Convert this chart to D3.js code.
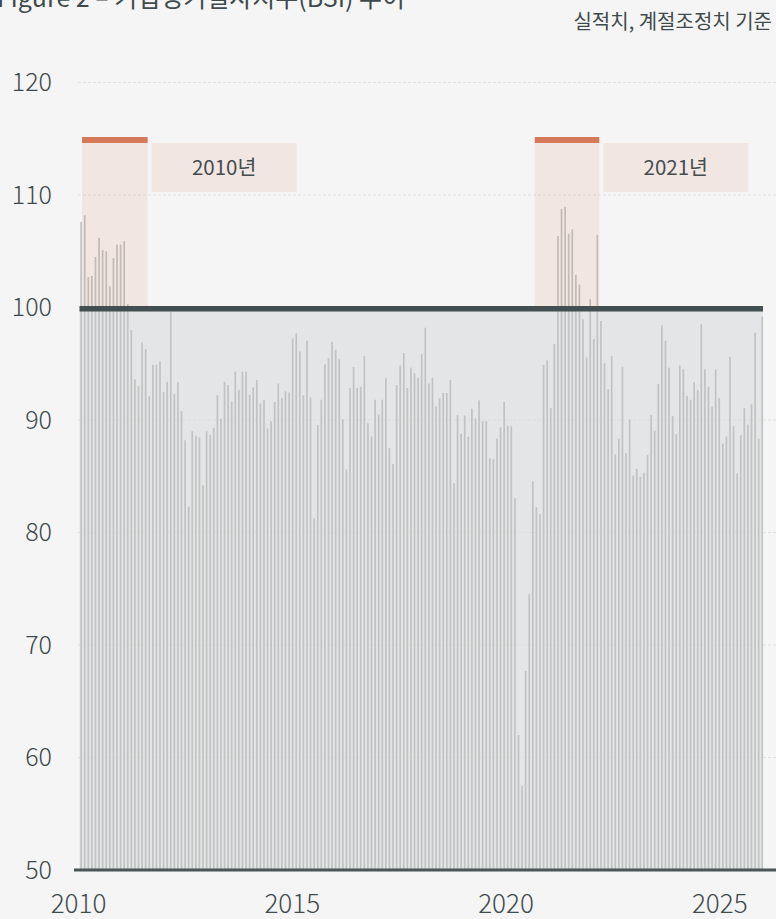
<!DOCTYPE html>
<html>
<head>
<meta charset="utf-8">
<script src="https://cdn.jsdelivr.net/npm/d3@7"></script>
<style>
  html, body { margin: 0; padding: 0; background: #f5f5f5; }
  svg { display: block; font-family: "Noto Sans CJK KR", "Noto Sans", sans-serif; }
</style>
</head>
<body>
<div id="chart"></div>
<script>
const WIDTH = 776, HEIGHT = 919;

// monthly values, Jan 2010 .. Nov 2025
const START_YEAR = 2010;
const values = [
  107.6, 108.2, 102.7, 102.8, 104.5, 106.2, 105.1, 105.0, 101.9, 104.4, 105.6, 105.6,
  105.9, 100.3, 98.0, 93.6, 93.0, 96.9, 96.3, 92.1, 94.9, 94.9, 95.2, 92.5,
  93.4, 99.6, 92.3, 93.35, 90.8, 88.2, 82.3, 89.0, 88.6, 88.45, 84.2, 89.0,
  88.7, 89.3, 92.2, 90.1, 93.4, 93.1, 91.65, 94.3, 92.7, 94.3, 94.3, 92.25,
  92.9, 93.55, 91.45, 91.8, 89.25, 89.9, 91.6, 93.25, 91.95, 92.55, 92.45, 97.25,
  97.7, 96.1, 92.2, 97.05, 92.0, 81.25, 89.55, 91.8, 94.95, 95.5, 96.95, 96.25,
  95.4, 90.05, 85.6, 92.85, 94.7, 92.85, 92.95, 95.7, 89.7, 88.55, 91.8, 90.5,
  91.8, 93.7, 87.5, 86.1, 93.1, 94.85, 95.95, 92.85, 94.65, 94.15, 93.75, 95.85,
  98.2, 93.25, 93.75, 91.2, 91.95, 92.4, 92.4, 93.55, 84.4, 90.45, 88.75, 90.4,
  88.5, 91.0, 90.15, 91.75, 89.9, 89.9, 86.6, 86.5, 88.35, 89.35, 91.6, 89.5,
  89.45, 83.05, 62.0, 57.5, 67.7, 74.5, 84.55, 82.25, 81.65, 94.9, 95.3, 91.05,
  96.75, 106.35, 108.75, 108.95, 106.55, 106.95, 102.9, 102.05, 98.95, 95.55, 100.75, 97.2,
  106.45, 98.8, 95.05, 92.75, 95.7, 86.95, 88.35, 94.75, 87.05, 90.05, 85.05, 85.65,
  84.95, 85.3, 86.9, 90.45, 89.05, 93.2, 98.4, 97.05, 94.65, 90.35, 88.75, 94.85,
  94.5, 92.15, 91.8, 93.35, 92.65, 98.5, 94.5, 92.95, 91.2, 94.5, 91.95, 87.9,
  88.55, 95.6, 89.45, 85.25, 88.65, 91.05, 89.6, 91.4, 97.75, 88.35, 99.2
];
const yTicks = [50, 60, 70, 80, 90, 100, 110, 120];
const xTicks = [2010, 2015, 2020, 2025];
const BASE = 100;

// highlighted periods (month index from Jan 2010)
const hlStart = [0, 127];
const hlEnd = [18, 144];
const hlLabel = ["2010년", "2021년"];

const title = "Figure 2 – 기업경기실사지수(BSI) 추이";
const subtitle = "실적치, 계절조정치 기준";

const data = values.map((v, i) => ({i: i, year: START_YEAR + Math.floor(i / 12), month: i % 12 + 1, value: v}));

const svg = d3.select("#chart").append("svg")
  .attr("width", WIDTH)
  .attr("height", HEIGHT);

svg.append("rect").attr("width", WIDTH).attr("height", HEIGHT).attr("fill", "#f5f5f5");

const y = d3.scaleLinear().domain([50, 120]).range([870, 82.5]);
const xBand = d3.scaleBand().domain(data.map(d => d.i)).range([79.5, 764.2]).padding(0);
const xYear = d3.scaleLinear().domain([2010, 2026]).range([78, 762]);
const bw = xBand.bandwidth();

// title (cut at top) + subtitle
svg.append("text")
  .attr("x", -3).attr("y", 7)
  .attr("font-size", 25)
  .attr("fill", "#3f4a4c")
  .text(title);
svg.append("text")
  .attr("x", 772).attr("y", 29)
  .attr("text-anchor", "end")
  .attr("font-size", 20)
  .attr("fill", "#3f4a4c")
  .text(subtitle);

// grey area under 100
svg.append("rect")
  .attr("x", 79.5).attr("y", y(BASE))
  .attr("width", 763 - 79.5).attr("height", y(50) - y(BASE))
  .attr("fill", "#e4e5e6");

// grid
svg.append("g").selectAll("line")
  .data(yTicks.filter(t => t > 50 && t !== BASE))
  .enter().append("line")
  .attr("x1", 78).attr("x2", WIDTH)
  .attr("y1", d => y(d)).attr("y2", d => y(d))
  .attr("stroke", "#dcdddd")
  .attr("stroke-width", 1)
  .attr("stroke-dasharray", "3,2")
  .attr("opacity", 0.8);

// bars
svg.append("g").selectAll("rect")
  .data(data)
  .enter().append("rect")
  .attr("x", d => xBand(d.i) + bw / 2 - 1)
  .attr("y", d => y(d.value))
  .attr("width", 1.7)
  .attr("height", d => y(50) - y(d.value))
  .attr("fill", "#c1c3c3");

// highlight periods
const hl = hlStart.map((s, k) => ({
  x0: Math.max(xBand(s), 82),
  x1: xBand(hlEnd[k]) + bw,
  label: hlLabel[k]
}));

const hg = svg.append("g");
hg.selectAll("rect.shade").data(hl).enter().append("rect")
  .attr("class", "shade")
  .attr("x", d => d.x0).attr("y", 137)
  .attr("width", d => d.x1 - d.x0)
  .attr("height", y(BASE) + 1 - 137)
  .attr("fill", "#d4785a")
  .attr("opacity", 0.12);
hg.selectAll("rect.top").data(hl).enter().append("rect")
  .attr("class", "top")
  .attr("x", d => d.x0).attr("y", 137)
  .attr("width", d => d.x1 - d.x0)
  .attr("height", 6)
  .attr("fill", "#d67a5b");
hg.selectAll("rect.box").data(hl).enter().append("rect")
  .attr("class", "box")
  .attr("x", d => d.x1 + 4).attr("y", 143)
  .attr("width", 145).attr("height", 49)
  .attr("fill", "#f2e6e3");
hg.selectAll("text").data(hl).enter().append("text")
  .attr("x", d => d.x1 + 4 + 72.5).attr("y", 168)
  .attr("dy", "0.35em")
  .attr("text-anchor", "middle")
  .attr("font-size", 20.5)
  .attr("fill", "#444c4e")
  .text(d => d.label);

// 100 line
svg.append("line")
  .attr("x1", 79.5).attr("x2", 763)
  .attr("y1", y(BASE) + 1.3).attr("y2", y(BASE) + 1.3)
  .attr("stroke", "#434f51")
  .attr("stroke-width", 5.5);

// bottom axis line
svg.append("line")
  .attr("x1", 74).attr("x2", WIDTH)
  .attr("y1", y(50)).attr("y2", y(50))
  .attr("stroke", "#4a5557")
  .attr("stroke-width", 3);

// axes
const yAxis = svg.append("g")
  .attr("transform", "translate(52,0)")
  .call(d3.axisLeft(y).tickValues(yTicks).tickSize(0).tickPadding(0).tickFormat(d3.format("d")));
yAxis.select(".domain").remove();
yAxis.selectAll("text")
  .attr("font-family", "\"Noto Sans CJK KR\", sans-serif")
  .attr("font-size", 25)
  .attr("font-weight", 300)
  .attr("fill", "#3f4a4c");

const xAxis = svg.append("g")
  .attr("transform", "translate(0,895)")
  .call(d3.axisBottom(xYear).tickValues(xTicks).tickSize(0).tickPadding(0).tickFormat(d3.format("d")));
xAxis.select(".domain").remove();
xAxis.selectAll("text")
  .attr("font-family", "\"Noto Sans CJK KR\", sans-serif")
  .attr("font-size", 26)
  .attr("font-weight", 300)
  .attr("fill", "#3f4a4c");
</script>
</body>
</html>
